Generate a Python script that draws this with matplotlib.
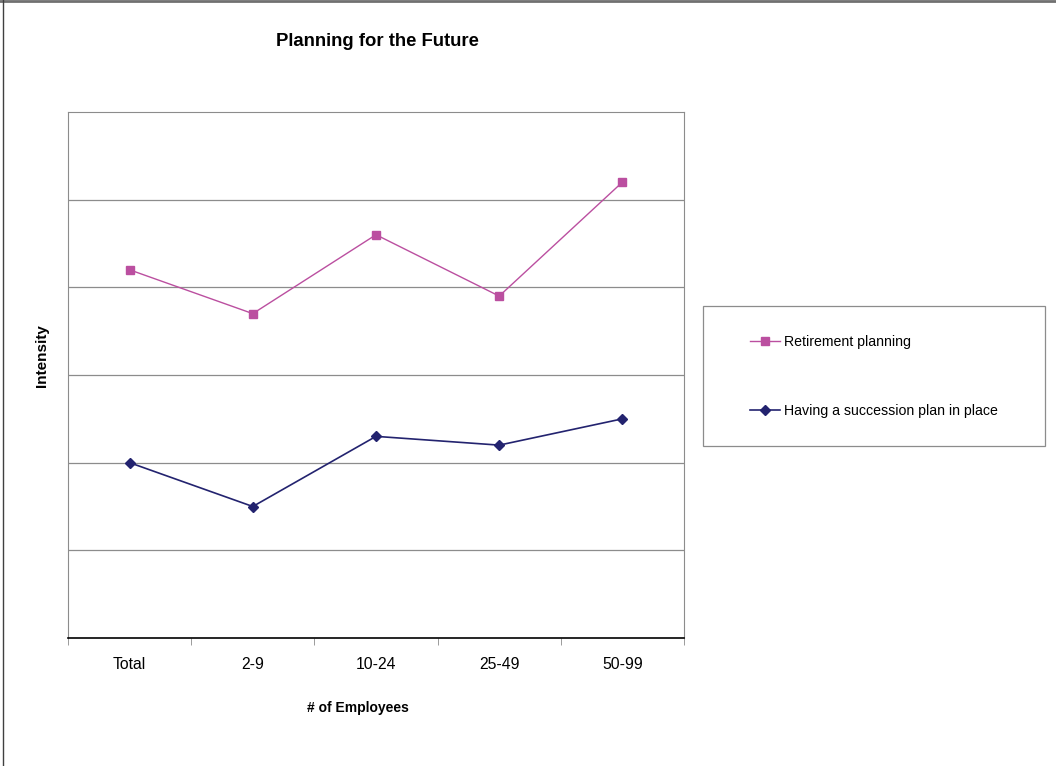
import matplotlib.pyplot as plt
from matplotlib.lines import Line2D
from matplotlib.patches import Rectangle

plt.rcParams['font.family'] = ['Liberation Sans', 'DejaVu Sans']

categories = ['Total', '2-9', '10-24', '25-49', '50-99']
retirement = [4.2, 3.7, 4.6, 3.9, 5.2]
succession = [2.0, 1.5, 2.3, 2.2, 2.5]
labels = ['Retirement planning', 'Having a succession plan in place']

pink = '#BB4FA0'
navy = '#23236F'

fig = plt.figure(figsize=(10.56, 7.66), dpi=100)
ax = fig.add_axes([68/1056, 128/766, 616/1056, 526/766])

x = range(len(categories))
ax.plot(x, retirement, color=pink, lw=1, marker='s', ms=6, mec=pink, mfc=pink)
ax.plot(x, succession, color=navy, lw=1.2, marker='D', ms=5, mec=navy, mfc=navy)

ax.set_xlim(-0.5, len(categories) - 0.5)
ax.set_ylim(0, 6)

# horizontal gridlines, no y labels
ax.set_yticks(range(1, 6))
ax.yaxis.grid(True, color='#8c8c8c', lw=0.9)
ax.tick_params(axis='y', length=0, labelleft=False)

# category labels centred, ticks on the boundaries
ax.set_xticks(list(x))
ax.set_xticklabels(categories, fontsize=11.3)
ax.tick_params(axis='x', which='major', length=0, pad=14)
ax.set_xticks([i - 0.5 for i in range(len(categories) + 1)], minor=True)
ax.tick_params(axis='x', which='minor', length=5, color='#8c8c8c', direction='out')

for side in ['left', 'top', 'right']:
    ax.spines[side].set_color('#8c8c8c')
ax.spines['bottom'].set_color('black')
ax.spines['bottom'].set_linewidth(1.2)

fig.text(377/1056, 1 - 41/766, 'Planning for the Future', fontsize=13.3,
         fontweight='bold', ha='center', va='center')
fig.text(358/1056, 1 - 708/766, '# of Employees', fontsize=10,
         fontweight='bold', ha='center', va='center')
fig.text(42/1056, 1 - 356/766, 'Intensity', fontsize=11,
         fontweight='bold', rotation=90, ha='center', va='center')

# legend box on the right
fig.add_artist(Rectangle((703/1056, 1 - 446/766), 342/1056, 140/766,
                         transform=fig.transFigure, fill=False,
                         edgecolor='#8c8c8c', lw=0.9))
handles = [Line2D([], [], color=pink, marker='s', ms=6, lw=1),
           Line2D([], [], color=navy, marker='D', ms=5, lw=1.2)]
fig.legend(handles, labels, loc='upper left',
           bbox_to_anchor=(750/1056, 1 - 335/766),
           fontsize=10.2, frameon=False, borderpad=0, borderaxespad=0,
           labelspacing=3.87, handlelength=2.1, handletextpad=0.3)

# outer chart border
fig.add_artist(Line2D([0, 1], [1 - 1/766, 1 - 1/766], color='#707070', lw=2))
fig.add_artist(Line2D([2.5/1056, 2.5/1056], [0, 1], color='#404040', lw=1))

fig.savefig('out.png', dpi=100)
